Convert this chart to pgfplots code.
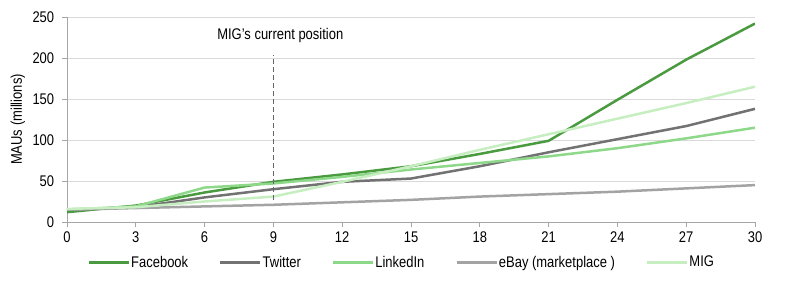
\documentclass[border=0pt]{standalone}
\usepackage{fontspec}
\setmainfont{Liberation Sans}[FakeStretch=0.84]
\usepackage{pgfplots}
\pgfplotsset{compat=1.18}
\definecolor{fb}{HTML}{4A9A3F}
\definecolor{tw}{HTML}{727272}
\definecolor{li}{HTML}{8ED88A}
\definecolor{eb}{HTML}{A3A3A3}
\definecolor{mig}{HTML}{C6EEC0}
\begin{document}
\begin{tikzpicture}
\fontsize{15.5}{17}\selectfont
\begin{axis}[
  scale only axis, width=688bp, height=205bp,
  xmin=0, xmax=30, ymin=0, ymax=250,
  xtick={0,3,...,30}, ytick={0,50,...,250},
  ymajorgrids, grid style={gray!30, line width=0.8bp},
  axis x line*=bottom, axis y line*=left,
  axis line style={gray!70, line width=0.8bp},
  tick style={gray!70, line width=0.8bp}, major tick length=4.5bp,
  tick align=outside,
  /pgf/number format/assume math mode=true,
  ticklabel style={font=\fontsize{15.5}{17}\selectfont},
  yticklabel style={xshift=-3bp},
  ylabel={MAUs (millions)},
  ylabel style={font=\fontsize{15.5}{17}\selectfont, yshift=-3bp},
  legend style={at={(0.486,-0.145)}, anchor=north, legend columns=5, draw=none, fill=none,
    font=\fontsize{15.5}{17}\selectfont, nodes={inner xsep=1bp},
    /tikz/every even column/.append style={column sep=30bp}},
  legend image code/.code={\draw[#1, line width=2.5bp] (-2bp,0bp) -- (38bp,0bp);},
  every axis plot/.append style={line width=2.5bp},
]
\addplot[fb] coordinates {(0,12) (3,20) (6,36) (9,49) (12,58) (15,68) (18,83) (21,99) (24,149) (27,198) (30,242)};
\addlegendentry{Facebook}
\addplot[tw] coordinates {(0,15) (3,18) (6,30) (9,40) (12,49) (15,53) (18,68) (21,85) (24,101) (27,117) (30,138)};
\addlegendentry{Twitter}
\addplot[li] coordinates {(0,15) (3,19) (6,42) (9,47) (12,55) (15,64) (18,72) (21,80) (24,90) (27,102) (30,115)};
\addlegendentry{LinkedIn}
\addplot[eb] coordinates {(0,15) (3,17) (6,19) (9,21) (12,24) (15,27) (18,31) (21,34) (24,37) (27,41) (30,45)};
\addlegendentry{eBay (marketplace )}
\addplot[mig] coordinates {(0,16) (3,18) (6,25) (9,31) (12,49) (15,68) (18,88) (21,107) (24,126) (27,145) (30,165)};
\addlegendentry{MIG}
\addplot[gray!80!black, line width=1.2bp, dash pattern=on 5bp off 3bp, forget plot] coordinates {(9,27) (9,204)};
\node[font=\fontsize{15.5}{17}\selectfont] at (axis cs:9.3,227) {MIG's current position};
\end{axis}
\pgfresetboundingbox
\path[use as bounding box] (-67bp,-73bp) rectangle (733bp,222bp);
\end{tikzpicture}
\end{document}
